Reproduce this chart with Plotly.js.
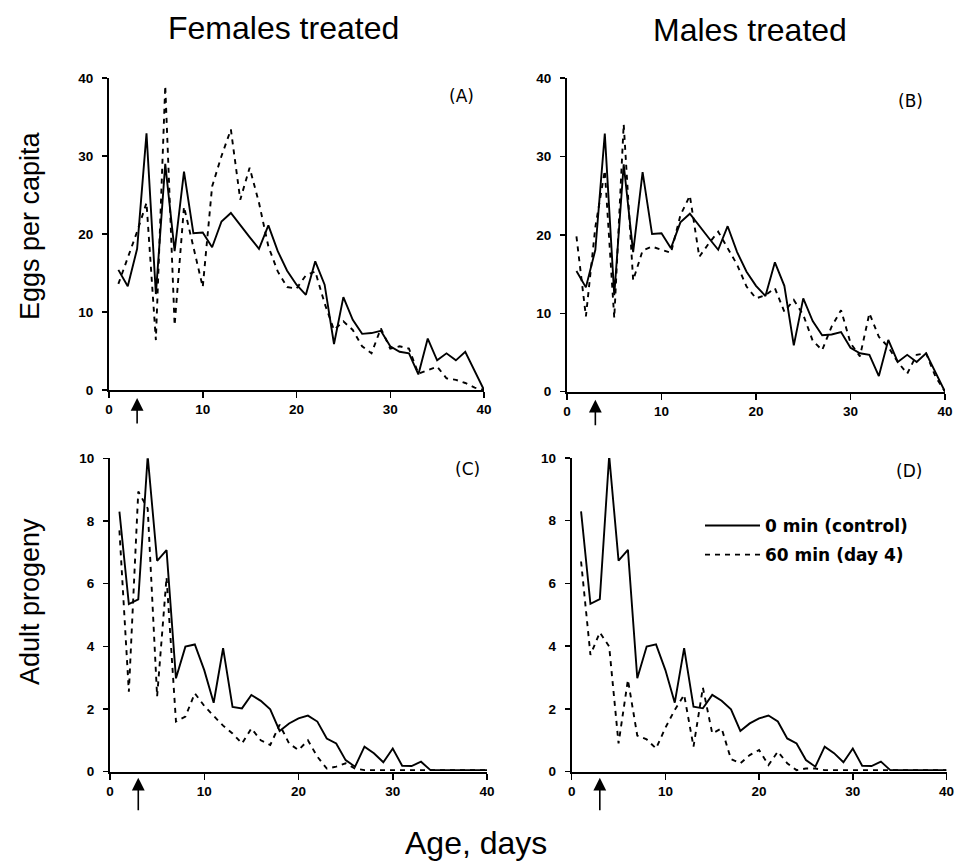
<!DOCTYPE html>
<html>
<head>
<meta charset="utf-8">
<script src="https://cdn.plot.ly/plotly-3.0.1.min.js"></script>
<style>
  html, body { margin: 0; padding: 0; background: #ffffff; }
  #chart { width: 955px; height: 867px; }
</style>
</head>
<body>
<div id="chart"></div>
<script>
// ---- Data ----
const days = [1,2,3,4,5,6,7,8,9,10,11,12,13,14,15,16,17,18,19,20,
              21,22,23,24,25,26,27,28,29,30,31,32,33,34,35,36,37,38,39,40];

// Eggs per capita, control (0 min) - same control in panels A and B
const eggsControl = [15.4,13.3,18.1,32.9,12.3,29.0,17.8,28.0,20.1,20.2,
                     18.3,21.6,22.7,21.1,19.6,18.1,21.1,17.8,15.3,13.5,
                     12.2,16.5,13.5,5.9,11.9,9.0,7.2,7.3,7.6,5.6,
                     4.9,4.7,2.0,6.6,3.8,4.7,3.8,4.9,2.5,0];

// Eggs per capita, 60 min (day 4), females treated (A)
const eggsFemales = [13.6,17.0,20.3,24.0,6.4,39.0,8.3,23.5,18.3,13.2,
                     26.1,30.0,33.4,24.4,28.5,24.0,18.4,15.2,13.2,13.0,
                     14.7,15.2,11.1,7.7,8.8,7.7,5.6,4.7,7.9,5.3,
                     5.6,5.3,2.1,2.6,3.0,1.5,1.3,0.9,0.3,0];

// Eggs per capita, 60 min (day 4), males treated (B)
const eggsMales = [19.8,9.6,21.0,28.2,9.4,34.1,14.2,18.0,18.5,18.1,
                   17.7,22.5,25.0,17.2,18.9,20.4,18.3,16.2,13.4,11.9,
                   12.3,13.2,10.2,11.7,9.8,6.5,5.3,8.3,10.4,6.2,
                   4.5,10.0,7.0,5.7,3.8,2.3,4.7,4.9,1.9,0];

// Adult progeny, control (0 min) - same control in panels C and D
const progControl = [8.3,5.35,5.5,10.07,6.73,7.07,2.98,3.99,4.06,3.24,
                     2.2,3.94,2.07,2.02,2.45,2.26,1.99,1.3,1.54,1.7,
                     1.79,1.6,1.06,0.9,0.37,0.16,0.8,0.59,0.3,0.74,
                     0.19,0.18,0.32,0.05,0.05,0.05,0.05,0.05,0.05,0.05];

// Adult progeny, 60 min (day 4), females treated (C)
const progFemales = [7.7,2.55,8.94,8.4,2.4,6.2,1.6,1.76,2.5,2.1,
                     1.78,1.47,1.22,0.9,1.38,1.0,0.85,1.5,0.9,0.69,
                     1.0,0.48,0.1,0.16,0.27,0.1,0.05,0.05,0.05,0.05,
                     0.05,0.05,0.05,0.05,0.05,0.05,0.05,0.05,0.05,0.05];

// Adult progeny, 60 min (day 4), males treated (D)
const progMales = [6.7,3.72,4.44,3.99,0.9,2.93,1.15,1.03,0.74,1.4,
                   1.97,2.45,0.8,2.68,1.22,1.38,0.4,0.27,0.53,0.69,
                   0.21,0.64,0.27,0.05,0.1,0.1,0.05,0.05,0.05,0.05,
                   0.05,0.05,0.05,0.05,0.05,0.05,0.05,0.05,0.05,0.05];

const xTicks = [0,10,20,30,40];
const eggTicks = [0,10,20,30,40];
const progTicks = [0,2,4,6,8,10];
const seriesNames = ['0 min (control)', '60 min (day 4)'];
const colTitles = ['Females treated', 'Males treated'];
const rowTitles = ['Eggs per capita', 'Adult progeny'];
const xTitle = 'Age, days';
const panelLabels = ['(A)', '(B)', '(C)', '(D)'];
const treatDay = 3;

// ---- Styles ----
const W = 955, H = 867;
const solid = {color: '#000', width: 1.9, dash: 'solid'};
const dashed = {color: '#000', width: 1.9, dash: '5px,5px'};
const tickFont = {family: 'Liberation Sans, Arial, sans-serif', size: 13.5, color: '#000', weight: 'bold'};

function xa(dom) {
  return {domain: dom, range: [0, 40], tickvals: xTicks, ticktext: xTicks.map(String),
    showgrid: false, zeroline: false, showline: true, linecolor: '#000', linewidth: 2,
    ticks: 'outside', ticklen: 6, tickwidth: 1.5, tickcolor: '#000', tickfont: tickFont,
    ticklabeloverflow: 'allow', fixedrange: true};
}
function ya(dom, range, vals) {
  return {domain: dom, range: range, tickvals: vals, ticktext: vals.map(String),
    showgrid: false, zeroline: false, showline: true, linecolor: '#000', linewidth: 2,
    ticks: 'outside', ticklen: 5, tickwidth: 1.5, tickcolor: '#000', tickfont: tickFont,
    ticklabelstandoff: 6, ticklabeloverflow: 'allow', fixedrange: true};
}
const px = v => v / W, py = v => 1 - v / H;

function tr(y, xa_, ya_, line, name, show, grp) {
  return {x: days, y: y, xaxis: xa_, yaxis: ya_, type: 'scatter', mode: 'lines',
    line: line, name: name, showlegend: show, legendgroup: grp, hoverinfo: 'skip'};
}

const data = [
  tr(eggsControl, 'x', 'y', solid, seriesNames[0], false, 'a'),
  tr(eggsFemales, 'x', 'y', dashed, seriesNames[1], false, 'b'),
  tr(eggsControl, 'x2', 'y2', solid, seriesNames[0], false, 'a'),
  tr(eggsMales, 'x2', 'y2', dashed, seriesNames[1], false, 'b'),
  tr(progControl, 'x3', 'y3', solid, seriesNames[0], false, 'a'),
  tr(progFemales, 'x3', 'y3', dashed, seriesNames[1], false, 'b'),
  tr(progControl, 'x4', 'y4', solid, seriesNames[0], true, 'a'),
  tr(progMales, 'x4', 'y4', dashed, seriesNames[1], true, 'b')
];

const titleFont = {family: 'Liberation Sans, Arial, sans-serif', size: 32, color: '#000'};
const rowFont = {family: 'Liberation Sans, Arial, sans-serif', size: 27, color: '#000'};
const labFont = {family: 'DejaVu Sans, sans-serif', size: 17, color: '#000'};

function txt(t, x, y, font, angle) {
  return {text: t, x: px(x), y: py(y), xref: 'paper', yref: 'paper', showarrow: false,
    xanchor: 'center', yanchor: 'middle', font: font, textangle: angle || 0};
}
function arrow(xr, yr, ay, standoff) {
  return {x: treatDay, y: 0, xref: xr, yref: yr, text: '', showarrow: true,
    ax: 0, ay: ay, axref: 'pixel', ayref: 'pixel', arrowhead: 2, arrowsize: 1.6,
    arrowwidth: 1.6, arrowcolor: '#000', standoff: standoff};
}

const layout = {
  width: W, height: H,
  margin: {l: 0, r: 0, t: 0, b: 0},
  paper_bgcolor: '#fff', plot_bgcolor: 'rgba(0,0,0,0)',
  showlegend: true,
  legend: {x: px(700), y: py(508), xanchor: 'left', yanchor: 'top',
    font: {family: 'DejaVu Sans, sans-serif', size: 17, color: '#000', weight: 'bold'},
    bgcolor: 'rgba(0,0,0,0)', borderwidth: 0, traceorder: 'grouped', tracegroupgap: 4,
    itemwidth: 55},
  xaxis:  xa([px(109), px(484)]),
  yaxis:  Object.assign(ya([py(390), py(78)], [0, 40], eggTicks), {anchor: 'x'}),
  xaxis2: Object.assign(xa([px(567), px(945)]), {anchor: 'y2'}),
  yaxis2: Object.assign(ya([py(391.7), py(78)], [0, 40], eggTicks), {anchor: 'x2'}),
  xaxis3: Object.assign(xa([px(110), px(487)]), {anchor: 'y3'}),
  yaxis3: Object.assign(ya([py(771.7), py(458.3)], [0, 10], progTicks), {anchor: 'x3'}),
  xaxis4: Object.assign(xa([px(571.7), px(946.5)]), {anchor: 'y4'}),
  yaxis4: Object.assign(ya([py(771.7), py(458)], [0, 10], progTicks), {anchor: 'x4'}),
  annotations: [
    txt(colTitles[0], 283, 28, titleFont),
    txt(colTitles[1], 750, 30, titleFont),
    txt(rowTitles[0], 30, 226, rowFont, -90),
    txt(rowTitles[1], 30, 602, rowFont, -90),
    txt(xTitle, 476, 843, titleFont),
    txt(panelLabels[0], 461, 96, labFont),
    txt(panelLabels[1], 910, 101, labFont),
    txt(panelLabels[2], 467, 469, labFont),
    txt(panelLabels[3], 909, 471, labFont),
    arrow('x', 'y', 35, 8),
    arrow('x2', 'y2', 35, 8),
    arrow('x3', 'y3', 40, 6),
    arrow('x4', 'y4', 40, 6)
  ]
};

Plotly.newPlot('chart', data, layout, {displayModeBar: false, staticPlot: true});
</script>
</body>
</html>
